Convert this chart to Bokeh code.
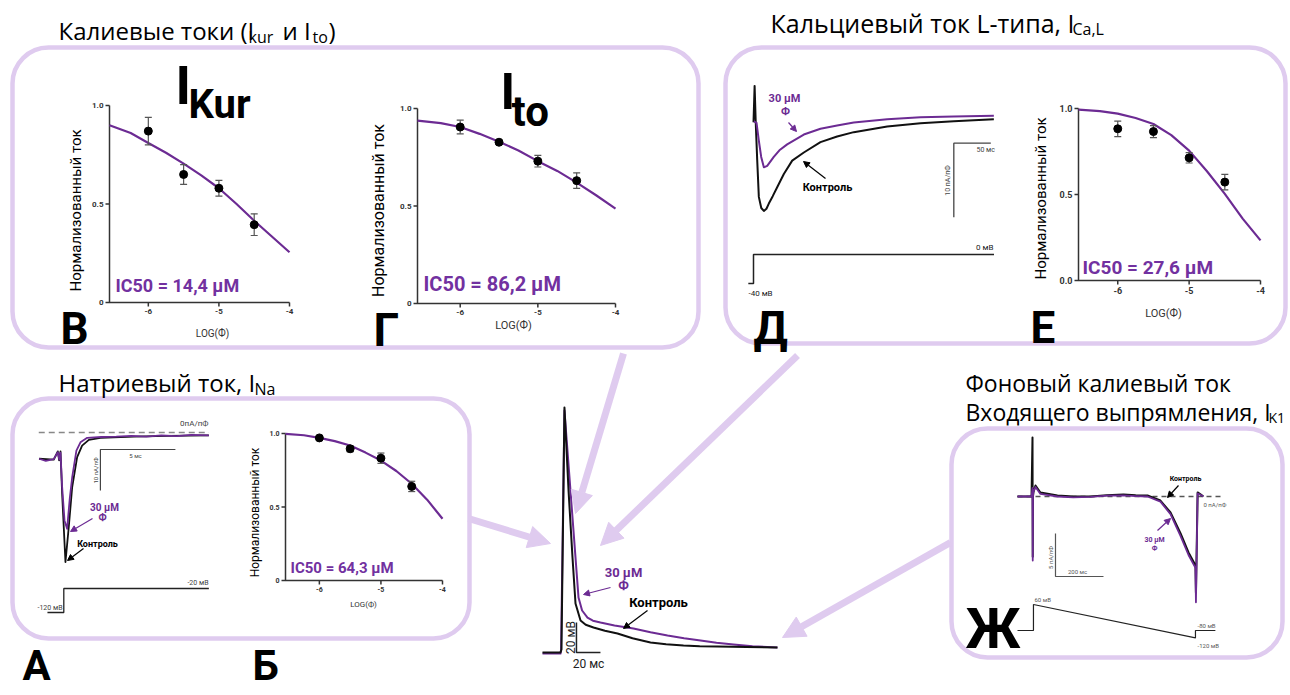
import math
from bokeh.plotting import figure
from bokeh.models import Range1d, Arrow, NormalHead
from bokeh.core.properties import value
from bokeh.embed import file_html
from bokeh.resources import INLINE

# ---------------- data ----------------
LOG_CONC = [-6.0, -5.5, -5.0, -4.5]
FIT_LOG = [-6.55, -6.25, -6.0, -5.75, -5.5, -5.25, -5.0, -4.75, -4.5, -4.25, -4.0]
X_TICKS = [-6, -5, -4]
X_TICK_LABELS = ["-6", "-5", "-4"]
Y_TICKS = [0.0, 0.5, 1.0]
Y_TICK_LABELS = ["0", "0.5", "1.0"]
Y_TICK_LABELS_E = ["0.0", "0.5", "1.0"]

# I_Kur (B)
KUR_MEAN = [0.87, 0.65, 0.58, 0.395]
KUR_ERR = [0.07, 0.05, 0.04, 0.055]
KUR_FIT = [0.90, 0.86, 0.81, 0.76, 0.705, 0.645, 0.58, 0.50, 0.415, 0.335, 0.255]
# I_to (Г)
TO_MEAN = [0.905, 0.827, 0.73, 0.63]
TO_ERR = [0.035, 0.01, 0.03, 0.04]
TO_FIT = [0.938, 0.925, 0.905, 0.87, 0.83, 0.785, 0.73, 0.68, 0.62, 0.555, 0.487]
# I_CaL (Е)
CAL_MEAN = [0.882, 0.866, 0.713, 0.572]
CAL_ERR = [0.045, 0.035, 0.03, 0.045]
CAL_FIT = [0.994, 0.985, 0.97, 0.945, 0.91, 0.845, 0.755, 0.635, 0.504, 0.36, 0.233]
# I_Na (Б)
NA_MEAN = [0.97, 0.896, 0.832, 0.64]
NA_ERR = [0.01, 0.02, 0.035, 0.035]
NA_FIT = [0.998, 0.988, 0.97, 0.948, 0.918, 0.87, 0.816, 0.745, 0.658, 0.55, 0.42]

# Ca L-type current traces (Д): time ms, current pA/pF
CAL_T_CTRL = [0.0, 1.5, 3.0, 5.0, 7.2, 10.5, 14.0, 17.5, 20.7, 26.0, 32.0, 41.0, 52.3, 68.0, 90.5, 113, 135.5, 180.7, 225.7, 270.7, 324.8]
CAL_I_CTRL = [-0.9, 4.0, -0.9, -6.0, -11.0, -12.5, -12.9, -12.6, -11.9, -10.9, -9.7, -7.9, -6.1, -5.0, -3.6, -2.84, -2.25, -1.49, -1.04, -0.77, -0.5]
CAL_T_DRUG = [0.5, 4.1, 7.2, 10.4, 14.0, 18.5, 27.4, 35.0, 45.5, 68.0, 90.5, 113, 135.5, 180.7, 225.7, 270.7, 324.8]
CAL_I_DRUG = [-0.8, -1.0, -3.4, -5.6, -7.0, -6.8, -5.6, -4.7, -3.9, -2.57, -1.8, -1.35, -0.95, -0.5, -0.23, -0.14, -0.05]
CAL_V_T = [-7, 0, 0, 325]
CAL_V = [-40, -40, 0, 0]

# Na current traces (А): time ms, current pA/pF
NA_T_CTRL = [-1.65, -0.67, -0.4, -0.31, -0.22, -0.11, 0.11, 0.33, 0.56, 0.89, 1.22, 1.67, 2.44, 4.67, 6.9, 9.67]
NA_I_CTRL = [-6.4, -6.6, -4.6, -6.8, -4.6, -15.0, -31.6, -23.1, -13.3, -6.0, -3.2, -1.8, -1.3, -1.0, -0.8, -0.7]
NA_T_DRUG = [-1.65, -1.2, -0.67, -0.4, -0.3, -0.22, -0.11, 0.05, 0.22, 0.4, 0.56, 0.84, 1.11, 1.56, 2.5, 3.5, 4.5, 5.5, 6.5, 7.5, 8.5, 9.67]
NA_I_DRUG = [-6.4, -6.9, -6.5, -4.8, -6.6, -4.9, -13.3, -21.5, -23.5, -16.0, -10.9, -4.4, -2.4, -1.3, -1.1, -1.0, -0.8, -1.0, -0.7, -0.9, -0.6, -0.7]
NA_V_T = [-1.09, 0, 0, 9.67]
NA_V = [-120, -120, -20, -20]

# Action potential (centre): time ms, voltage mV
AP_T_CTRL = [-15, 0, 0.8, 3.3, 6.7, 10, 12.5, 16.7, 21, 27.5, 37, 47.5, 60, 75, 88, 102.5, 116, 130.8, 155, 180.8]
AP_V_CTRL = [-80, -80, -78, 83.3, 28, -16.7, -47.3, -58.7, -61.5, -63.3, -65.5, -67.3, -70.5, -73.3, -74.5, -75.3, -75.8, -76, -76.4, -76.7]
AP_T_DRUG = [-15, 0, 0.5, 3.3, 8.3, 12.5, 15, 18, 22.5, 27, 33.3, 45, 60.8, 75, 89.2, 103, 116.7, 130, 144.2, 160, 180.8]
AP_V_DRUG = [-80.7, -80.7, -78, 81.3, 28, -16.7, -43.3, -52, -56.7, -58.8, -60, -62, -64, -66.5, -68.7, -70.5, -72, -73.5, -74.7, -75.8, -76.7]

# I_K1 traces (Ж): time ms, current pA/pF
K1_T = [-62.5, -4, 0, 1, 2, 4, 12.5, 33, 104, 170, 242, 310, 379, 430, 479, 533, 575, 617, 650, 679, 681, 688, 700, 712]
K1_I_CTRL = [0, 0, 6.86, -7.0, 0, 0.5, 1.28, 0.47, 0.12, 0.0, 0.0, 0.15, 0.23, 0.15, 0.12, -0.47, -1.86, -4.3, -6.5, -8.0, -11.2, 0.47, 0.25, 0.0]
K1_I_DRUG = [0, 0, 1.0, -7.44, 0, 0.6, 1.1, 0.3, 0.0, -0.1, -0.05, 0.1, 0.12, 0.05, 0.0, -0.6, -2.05, -4.6, -6.8, -8.3, -12.3, 0.35, 0.2, 0.0]
K1_V_T = [-62.5, 4, 4, 679, 679, 762]
K1_V = [-80, -80, 60, -120, -80, -80]

# ---------------- style ----------------
PURPLE = "#6c2b93"
IC_PURPLE = "#7231a0"
LAV = "#dfcbef"
AX = "#333333"
FONT = "Roboto"
TFONT = "Open Sans"

W, H = 1288, 691
p = figure(width=W, height=H, x_range=Range1d(0, W), y_range=Range1d(H, 0),
           output_backend="svg", toolbar_location=None, min_border=0,
           x_axis_location=None, y_axis_location=None)
p.grid.visible = False
p.outline_line_color = None
p.background_fill_color = "white"
p.border_fill_color = "white"


def txt(x, y, s, size=12, color="black", bold=False, align="left", baseline="middle", angle=0.0, font=FONT):
    p.text(x=[x], y=[y], text=[s], text_font=value(font), text_font_size=f"{size}px",
           text_color=color, text_font_style="bold" if bold else "normal",
           text_align=align, text_baseline=baseline, angle=angle)


# ---------------- rounded boxes ----------------
for (l, t, r, b) in [(12, 47, 698, 347), (725, 47, 1285, 343), (12, 398, 469, 638), (951, 428, 1282, 657)]:
    p.quad(left=[l], right=[r], top=[t], bottom=[b], fill_color=None, line_color=LAV,
           line_width=4.5, border_radius=36)

# ---------------- big arrows ----------------
for (xs, ys, xe, ye) in [(623, 353, 575, 513), (797, 355, 600, 545), (468, 518, 550, 543), (950, 542, 782, 637)]:
    p.add_layout(Arrow(end=NormalHead(size=22, fill_color=LAV, line_color=LAV, line_width=1),
                       x_start=xs, y_start=ys, x_end=xe, y_end=ye, line_color=LAV, line_width=7))


# ---------------- dose-response panels ----------------
def dose_panel(xt, yt, mean, err, fit, ylabels, tick_size=8):
    x0 = -6.55
    sp = p.subplot(x_source=Range1d(x0, -4.0), y_source=Range1d(0, 1),
                   x_target=Range1d(*xt), y_target=Range1d(*yt))
    px_x = (xt[1] - xt[0]) / (-4.0 - x0)
    px_y = (yt[0] - yt[1])
    tx, ty = 4 / px_x, 4 / px_y
    sp.line([x0, x0, -4.0], [1, 0, 0], line_color=AX, line_width=1.5)
    sp.segment(x0=X_TICKS, y0=[0] * 3, x1=X_TICKS, y1=[-ty] * 3, line_color=AX, line_width=1.5)
    sp.segment(x0=[x0] * 3, y0=Y_TICKS, x1=[x0 - tx] * 3, y1=Y_TICKS, line_color=AX, line_width=1.5)
    sp.text(x=X_TICKS, y=[0] * 3, text=X_TICK_LABELS, y_offset=6, text_align="center",
            text_baseline="top", text_font=value(FONT), text_font_size=f"{tick_size}px",
            text_font_style="bold", text_color=AX)
    sp.text(x=[x0] * 3, y=Y_TICKS, text=ylabels, x_offset=-6, text_align="right",
            text_baseline="middle", text_font=value(FONT), text_font_size=f"{tick_size}px",
            text_font_style="bold", text_color=AX)
    sp.line(FIT_LOG, fit, line_color=PURPLE, line_width=2.2)
    lo = [m - e for m, e in zip(mean, err)]
    hi = [m + e for m, e in zip(mean, err)]
    cap = 3.5 / px_x
    sp.segment(x0=LOG_CONC, y0=lo, x1=LOG_CONC, y1=hi, line_color="#555555", line_width=1.2)
    sp.segment(x0=[c - cap for c in LOG_CONC], y0=lo, x1=[c + cap for c in LOG_CONC], y1=lo,
               line_color="#555555", line_width=1.2)
    sp.segment(x0=[c - cap for c in LOG_CONC], y0=hi, x1=[c + cap for c in LOG_CONC], y1=hi,
               line_color="#555555", line_width=1.2)
    sp.scatter(LOG_CONC, mean, size=8, color="black")


dose_panel((109, 289), (302, 105), KUR_MEAN, KUR_ERR, KUR_FIT, Y_TICK_LABELS, 8)
dose_panel((417, 615), (303, 108), TO_MEAN, TO_ERR, TO_FIT, Y_TICK_LABELS, 8)
dose_panel((285, 442), (580, 433), NA_MEAN, NA_ERR, NA_FIT, Y_TICK_LABELS, 7)
dose_panel((1078, 1260), (280, 108), CAL_MEAN, CAL_ERR, CAL_FIT, Y_TICK_LABELS_E, 9)

YLAB = "Нормализованный ток"
txt(75, 210, YLAB, 15, angle=math.pi / 2, align="center")
txt(378, 210, YLAB, 16, angle=math.pi / 2, align="center")
txt(1040, 198, YLAB, 15, angle=math.pi / 2, align="center")
txt(254, 512, YLAB, 12, angle=math.pi / 2, align="center")
txt(212, 333, "LOG(Ф)", 10, align="center", color=AX)
txt(513, 325, "LOG(Ф)", 11, align="center", color=AX)
txt(1163, 313, "LOG(Ф)", 11, align="center", color=AX)
txt(363, 604, "LOG(Ф)", 8, align="center", color=AX)

txt(115, 285, "IC50 = 14,4 µM", 18, IC_PURPLE, True)
txt(423, 283, "IC50 = 86,2 µM", 20, IC_PURPLE, True)
txt(1082, 267, "IC50 = 27,6 µM", 19, IC_PURPLE, True)
txt(290, 567, "IC50 = 64,3 µM", 15, IC_PURPLE, True)

# big current names
txt(175, 85, "I", 53, bold=True)
txt(188, 104, "Kur", 40, bold=True)
txt(500, 91, "I", 50, bold=True)
txt(511, 111, "to", 42, bold=True)


# ---------------- trace panels ----------------
def sub(x_src, x_tgt, y_src, y_tgt):
    return p.subplot(x_source=Range1d(*x_src), y_source=Range1d(*y_src),
                     x_target=Range1d(*x_tgt), y_target=Range1d(*y_tgt))


# Д: Ca L-type  (50 ms = 37 px, 10 pA/pF = 74 px)
ca = sub((0, 50), (753, 790), (0, -10), (115, 189))
ca.line(CAL_T_CTRL, CAL_I_CTRL, line_color="#111111", line_width=2, line_join="round")
ca.line(CAL_T_DRUG, CAL_I_DRUG, line_color=PURPLE, line_width=2, line_join="round")
ca.line([320.7, 270.7, 270.7], [-3.74, -3.74, -13.74], line_color="#444444", line_width=1.3)
cav = sub((0, 50), (753, 790), (-40, 0), (283, 254))
cav.line(CAL_V_T, CAL_V, line_color="#222222", line_width=1.5)
txt(976, 149, "50 мс", 7, "#444")
txt(947, 180, "10 пА/пФ", 7, "#444", angle=math.pi / 2, align="center")
txt(993, 247, "0 мВ", 8, "#222", align="right")
txt(748, 293, "-40 мВ", 8, "#222")
txt(784, 98, "30 µM", 11, PURPLE, True, align="center")
txt(785, 111, "Ф", 11, PURPLE, True, align="center")
txt(827, 187, "Контроль", 11, "black", True, align="center")

# А: Na current (5 ms = 75 px, 10 pA/pF = 41 px)
na = sub((0, 5), (63.3, 138.3), (0, -10), (432, 473))
na.line([-1.67, 9.67], [0, 0], line_color="#888888", line_width=1.5, line_dash="6 4")
na.line(NA_T_CTRL, NA_I_CTRL, line_color="#111111", line_width=1.8, line_join="round")
na.line(NA_T_DRUG, NA_I_DRUG, line_color=PURPLE, line_width=1.8, line_join="round")
na.line([7.44, 2.44, 2.44], [-4.15, -4.15, -14.15], line_color="#444444", line_width=1.2)
nav = sub((0, 5), (63.3, 138.3), (-120, -20), (612, 588))
nav.line(NA_V_T, NA_V, line_color="#222222", line_width=1.3)
txt(208, 423, "0пА/пФ", 8, "#444", align="right")
txt(135, 455, "5 мс", 6, "#444", align="center")
txt(95, 470, "10 пА/пФ", 6, "#444", angle=math.pi / 2, align="center")
txt(208, 582, "-20 мВ", 7, "#444", align="right")
txt(37, 607, "-120 мВ", 7, "#444")
txt(104, 507, "30 µM", 10, PURPLE, True, align="center")
txt(102, 517, "Ф", 10, PURPLE, True, align="center")
txt(97, 543, "Контроль", 9, "black", True, align="center")

# centre: action potential (20 ms = 24 px, 20 mV = 30 px)
ap = sub((0, 20), (560, 584), (-80, -60), (652, 622))
ap.line(AP_T_DRUG, AP_V_DRUG, line_color=PURPLE, line_width=2, line_join="round")
ap.line(AP_T_CTRL, AP_V_CTRL, line_color="#111111", line_width=2, line_join="round")
ap.line([13.3, 13.3, 33.3], [-60, -80, -80], line_color="#222222", line_width=1.5)
txt(570, 637, "20 мВ", 12, "#222", angle=math.pi / 2, align="center")
txt(588, 663, "20 мс", 12, "#222", align="center")
txt(623, 572, "30 µM", 13, PURPLE, True, align="center")
txt(623, 585, "Ф", 13, PURPLE, True, align="center")
txt(658, 602, "Контроль", 13, "black", True, align="center")

# Ж: I_K1 (200 ms = 48 px, 5 pA/pF = 43 px)
k1 = sub((0, 200), (1032, 1080), (0, -5), (496, 539))
k1.line([-62.5, 796], [0, 0], line_color="#555555", line_width=1.3, line_dash="5 4")
k1.line(K1_T, K1_I_CTRL, line_color="#111111", line_width=2, line_join="round")
k1.line(K1_T, K1_I_DRUG, line_color=PURPLE, line_width=1.8, line_join="round")
k1.line([95.8, 95.8, 295.8], [-4.3, -9.3, -9.3], line_color="#555555", line_width=1.2)
k1v = sub((0, 200), (1032, 1080), (-80, 60), (630, 604))
k1v.line(K1_V_T, K1_V, line_color="#222222", line_width=1.2)
txt(1203, 504, "0 пА/пФ", 6, "#555")
txt(1050, 557, "5 пА/пФ", 6, "#555", angle=math.pi / 2, align="center")
txt(1077, 571, "200 мс", 6, "#555", align="center")
txt(1034, 599, "60 мВ", 6, "#555")
txt(1197, 625, "-80 мВ", 6, "#555")
txt(1197, 645, "-120 мВ", 6, "#555")
txt(1185, 478, "Контроль", 7, "black", True, align="center")
txt(1154, 539, "30 µM", 7, PURPLE, True, align="center")
txt(1154, 547, "Ф", 7, PURPLE, True, align="center")

# small annotation arrows
for (xs, ys, xe, ye, c) in [(788, 122, 796, 131, PURPLE), (825, 178, 803, 161, "black"),
                            (92, 518, 70, 531, PURPLE), (83, 548, 67, 560, "black"),
                            (610, 587, 583, 594, PURPLE), (647, 610, 623, 628, "black"),
                            (1178, 485, 1167, 497, "black"), (1157, 530, 1170, 518, PURPLE)]:
    p.add_layout(Arrow(end=NormalHead(size=6, fill_color=c, line_color=c, line_width=1),
                       x_start=xs, y_start=ys, x_end=xe, y_end=ye, line_color=c, line_width=1.2))

# ---------------- titles ----------------
txt(58, 30, "Калиевые токи (I", 24, font=TFONT)
txt(248, 36, "kur", 16, font=TFONT)
txt(282, 30, "и I", 24, font=TFONT)
txt(312, 36, "to", 16, font=TFONT)
txt(328, 30, ")", 24, font=TFONT)
txt(770, 22, "Кальциевый ток L-типа, I", 25, font=TFONT)
txt(1072, 28, "Ca,L", 16, font=TFONT)
txt(58, 382, "Натриевый ток, I", 24, font=TFONT)
txt(254, 388, "Na", 16, font=TFONT)
txt(965, 382, "Фоновый калиевый ток", 23, font=TFONT)
txt(965, 411, "Входящего выпрямления, I", 23, font=TFONT)
txt(1268, 417, "K1", 14, font=TFONT)

# ---------------- panel letters ----------------
for (x, y, s, size) in [(60, 328, "В", 44), (373, 329, "Г", 46), (753, 327, "Д", 46),
                        (1030, 327, "Е", 44), (22, 665, "А", 42), (252, 665, "Б", 42),
                        (965, 628, "Ж", 55)]:
    txt(x, y, s, size, bold=True)

open("out.html", "w").write(file_html(p, INLINE))
